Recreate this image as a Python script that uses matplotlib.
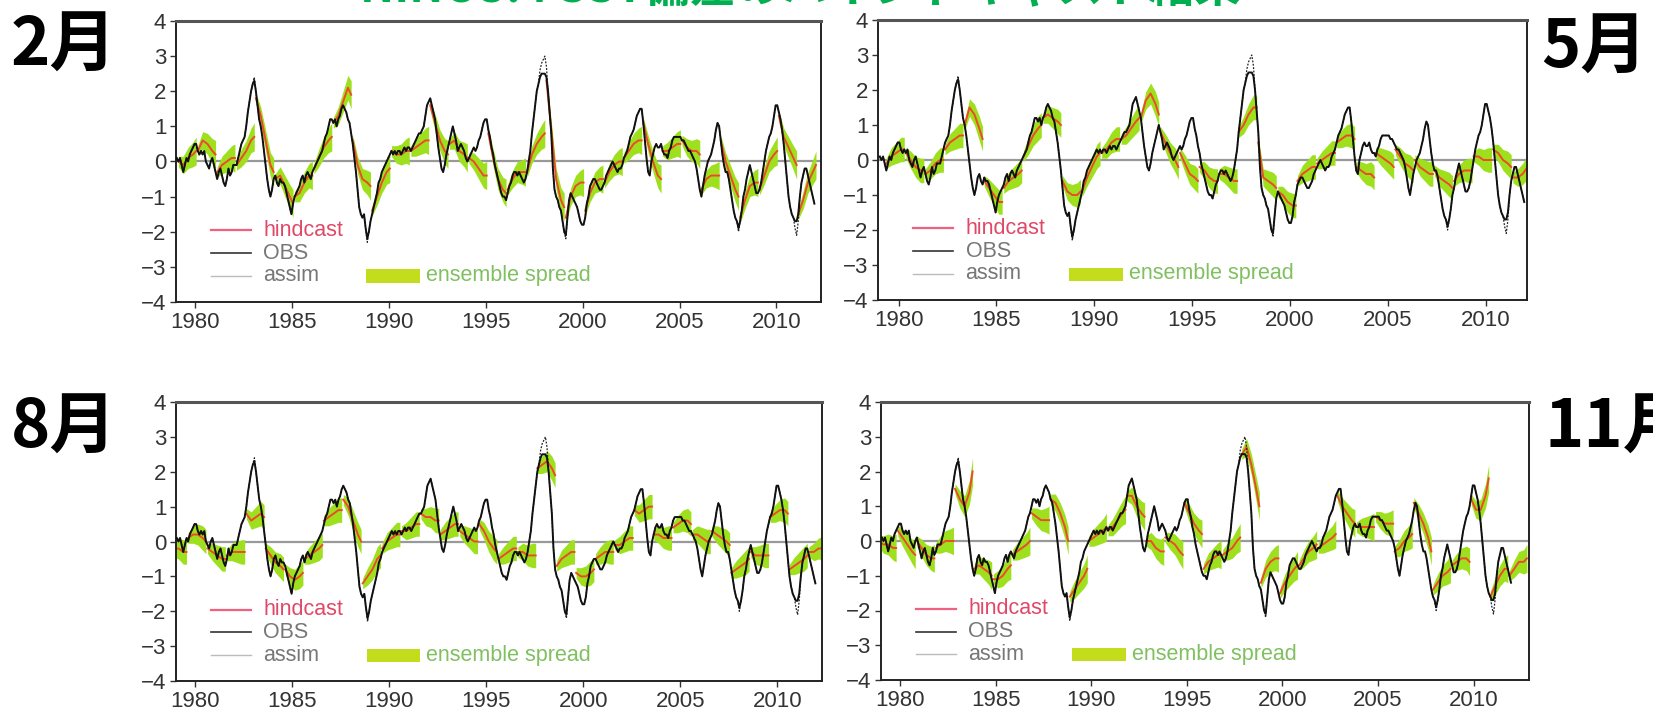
import numpy as np
import matplotlib.pyplot as plt

# ---------------------------------------------------------------- data
# Observed NINO3.4 SST anomaly (degC), monthly, Jan..Dec for each year
OBS_START = 1979
OBS = [
    [0.1, 0.0, 0.1, -0.1, -0.3, -0.1, 0.1, 0.0, 0.2, 0.3, 0.4, 0.5],      # 1979
    [0.5, 0.3, 0.2, 0.3, 0.2, 0.3, 0.0, -0.1, -0.2, 0.0, 0.1, -0.1],      # 1980
    [-0.3, -0.5, -0.3, -0.2, -0.4, -0.6, -0.7, -0.5, -0.2, -0.4, -0.3, -0.1],
    [-0.1, -0.1, 0.1, 0.3, 0.5, 0.6, 0.7, 1.0, 1.4, 1.7, 2.0, 2.2],
    [2.3, 2.0, 1.6, 1.2, 1.0, 0.7, 0.3, -0.1, -0.5, -0.8, -1.0, -0.8],
    [-0.5, -0.4, -0.6, -0.7, -0.5, -0.6, -0.6, -0.7, -0.9, -1.1, -1.3, -1.5],
    [-1.2, -1.0, -0.9, -0.8, -0.7, -0.5, -0.4, -0.6, -0.4, -0.3, -0.4, -0.5],
    [-0.3, -0.2, -0.1, 0.0, 0.1, 0.2, 0.3, 0.5, 0.7, 0.8, 1.0, 1.2],
    [1.2, 1.1, 1.2, 1.0, 1.2, 1.3, 1.5, 1.6, 1.5, 1.4, 1.2, 1.1],
    [0.8, 0.5, 0.1, -0.3, -0.8, -1.3, -1.5, -1.6, -1.5, -1.9, -2.2, -2.0],
    [-1.7, -1.5, -1.3, -1.1, -0.9, -0.6, -0.5, -0.3, -0.2, -0.1, 0.0, 0.1],
    [0.2, 0.3, 0.2, 0.3, 0.2, 0.3, 0.3, 0.2, 0.3, 0.4, 0.3, 0.4],
    [0.4, 0.3, 0.4, 0.5, 0.6, 0.7, 0.8, 0.8, 0.9, 1.0, 1.3, 1.6],
    [1.7, 1.8, 1.6, 1.4, 1.2, 0.8, 0.4, 0.1, -0.2, -0.3, -0.1, 0.2],
    [0.4, 0.6, 0.8, 1.0, 0.8, 0.6, 0.3, 0.4, 0.5, 0.4, 0.3, 0.1],
    [0.0, 0.1, 0.2, 0.3, 0.4, 0.3, 0.4, 0.6, 0.7, 0.9, 1.1, 1.2],
    [1.2, 0.9, 0.7, 0.4, 0.2, -0.1, -0.3, -0.5, -0.7, -0.9, -1.0, -1.0],
    [-1.1, -0.9, -0.7, -0.6, -0.4, -0.3, -0.3, -0.4, -0.3, -0.4, -0.5, -0.6],
    [-0.5, -0.3, 0.0, 0.3, 0.8, 1.2, 1.6, 2.0, 2.2, 2.4, 2.5, 2.5],
    [2.5, 2.4, 2.0, 1.4, 0.8, -0.2, -0.8, -1.0, -1.1, -1.3, -1.4, -1.7],
    [-2.0, -2.1, -1.6, -1.1, -0.9, -1.0, -1.1, -1.2, -1.3, -1.5, -1.7, -1.8],
    [-1.8, -1.6, -1.2, -1.0, -0.7, -0.6, -0.5, -0.5, -0.6, -0.7, -0.8, -0.8],
    [-0.7, -0.6, -0.4, -0.3, -0.2, -0.1, 0.0, -0.1, -0.2, -0.3, -0.2, -0.2],
    [-0.1, 0.1, 0.2, 0.3, 0.5, 0.7, 0.8, 0.9, 1.1, 1.3, 1.4, 1.5],
    [1.5, 1.1, 0.6, 0.1, -0.3, -0.4, 0.0, 0.2, 0.4, 0.5, 0.4, 0.4],
    [0.5, 0.3, 0.2, 0.2, 0.1, 0.3, 0.4, 0.6, 0.7, 0.7, 0.7, 0.7],
    [0.7, 0.6, 0.6, 0.5, 0.4, 0.3, 0.3, 0.2, 0.1, 0.0, -0.2, -0.5],
    [-0.8, -1.0, -0.7, -0.4, -0.2, 0.0, 0.1, 0.2, 0.4, 0.6, 0.9, 1.1],
    [1.0, 0.6, 0.2, -0.1, -0.3, -0.3, -0.5, -0.8, -1.1, -1.4, -1.6, -1.7],
    [-1.9, -1.7, -1.4, -1.0, -0.8, -0.5, -0.3, -0.1, -0.3, -0.5, -0.7, -0.9],
    [-0.9, -0.8, -0.6, -0.3, 0.0, 0.3, 0.5, 0.7, 0.8, 1.0, 1.3, 1.6],
    [1.6, 1.4, 1.2, 0.9, 0.5, 0.0, -0.5, -1.0, -1.3, -1.5, -1.6, -1.7],
    [-1.7, -1.5, -1.0, -0.6, -0.4, -0.2, -0.2, -0.4, -0.6, -0.8, -1.0, -1.2],  # 2011
]

# Assimilation run: departures from OBS, keyed by (year, month)
ASSIM_DIFF = {
    (1983, 1): 0.1, (1988, 11): -0.1,
    (1997, 10): 0.2, (1997, 11): 0.3, (1997, 12): 0.4, (1998, 1): 0.5, (1998, 2): 0.3,
    (1999, 2): -0.1, (2008, 1): -0.1, (2010, 12): -0.2, (2011, 1): -0.4, (2011, 2): -0.2,
}

# Hindcasts: lead months of each stored value, and one row per start year
LEADS = [0, 3, 6, 9, 11]

HC_FEB_START = 1979
HC_FEB = [
    [0.0, -0.1, 0.1, 0.2, 0.3], [0.3, 0.6, 0.5, 0.3, 0.2], [-0.3, -0.1, 0.0, 0.1, 0.1],
    [-0.1, 0.1, 0.3, 0.6, 0.7], [1.8, 1.3, 0.6, -0.1, -0.3], [-0.5, -0.4, -0.7, -1.0, -1.2],
    [-1.0, -0.9, -0.6, -0.4, -0.4], [-0.2, 0.1, 0.4, 0.6, 0.7], [1.1, 1.3, 1.7, 2.1, 1.9],
    [0.6, -0.1, -0.5, -0.6, -0.7], [-1.4, -1.0, -0.6, -0.3, -0.2], [0.3, 0.2, 0.2, 0.3, 0.3],
    [0.3, 0.4, 0.5, 0.6, 0.6], [1.6, 1.1, 0.6, 0.3, 0.2], [0.5, 0.6, 0.3, 0.2, 0.1],
    [0.1, 0.0, -0.2, -0.4, -0.4], [0.8, 0.1, -0.5, -0.8, -0.9], [-0.8, -0.5, -0.3, -0.3, -0.3],
    [-0.3, 0.2, 0.5, 0.7, 0.8], [2.3, 0.9, -0.5, -1.1, -1.3], [-1.6, -1.0, -0.7, -0.6, -0.6],
    [-1.4, -0.9, -0.6, -0.5, -0.5], [-0.6, -0.3, -0.1, 0.0, 0.0], [0.1, 0.3, 0.5, 0.6, 0.6],
    [1.1, 0.5, 0.0, -0.4, -0.5], [0.3, 0.3, 0.4, 0.5, 0.5], [0.6, 0.4, 0.3, 0.3, 0.2],
    [-0.8, -0.5, -0.4, -0.4, -0.4], [0.6, 0.0, -0.4, -0.8, -1.0], [-1.6, -1.1, -0.7, -0.6, -0.6],
    [-0.8, -0.4, 0.0, 0.2, 0.3], [1.3, 0.7, 0.4, 0.1, -0.1], [-1.5, -1.1, -0.6, -0.3, -0.1],
]
HC_MAY_START = 1979
HC_MAY = [
    [-0.1, 0.1, 0.2, 0.3, 0.3], [0.2, 0.0, -0.2, -0.3, -0.3], [-0.4, -0.3, -0.1, 0.0, 0.0],
    [0.3, 0.5, 0.6, 0.7, 0.7], [1.0, 1.5, 1.3, 0.9, 0.6], [-0.6, -0.8, -1.0, -1.2, -1.2],
    [-0.8, -0.6, -0.5, -0.4, -0.3], [0.1, 0.4, 0.7, 0.9, 1.0], [1.2, 1.3, 1.2, 1.1, 1.0],
    [-0.6, -0.9, -1.0, -1.0, -0.9], [-0.9, -0.5, -0.2, 0.1, 0.2], [0.2, 0.3, 0.5, 0.6, 0.6],
    [0.6, 0.7, 0.9, 1.1, 1.2], [1.2, 1.7, 1.9, 1.6, 1.3], [0.8, 0.5, 0.2, 0.0, -0.2],
    [0.2, -0.1, -0.4, -0.5, -0.6], [-0.2, -0.3, -0.5, -0.6, -0.6], [-0.4, -0.4, -0.5, -0.6, -0.6],
    [0.8, 1.0, 1.3, 1.5, 1.5], [0.5, -0.5, -0.6, -0.7, -0.8], [-0.9, -1.0, -1.2, -1.3, -1.3],
    [-0.6, -0.4, -0.3, -0.2, -0.2], [-0.1, 0.0, 0.1, 0.2, 0.2], [0.5, 0.6, 0.7, 0.7, 0.6],
    [-0.2, -0.3, -0.4, -0.4, -0.5], [0.2, 0.1, 0.0, -0.1, -0.2], [0.3, 0.1, -0.1, -0.2, -0.3],
    [0.0, -0.2, -0.3, -0.4, -0.4], [-0.3, -0.5, -0.6, -0.7, -0.8], [-0.6, -0.4, -0.3, -0.3, -0.3],
    [0.1, 0.1, 0.0, 0.0, 0.0], [0.3, 0.2, 0.0, -0.1, -0.2], [-0.5, -0.5, -0.4, -0.2, 0.2],
]
HC_AUG_START = 1978
HC_AUG = [
    [-0.1, -0.2, -0.2, -0.3, -0.3],
    [0.1, 0.2, 0.2, 0.1, 0.0], [-0.2, -0.3, -0.4, -0.5, -0.5], [-0.4, -0.3, -0.3, -0.3, -0.3],
    [0.8, 0.6, 0.7, 0.8, 0.7], [-0.2, -0.4, -0.6, -0.7, -0.8], [-0.8, -1.0, -1.1, -1.0, -0.9],
    [-0.5, -0.4, -0.3, -0.2, -0.1], [0.6, 0.7, 0.8, 0.9, 0.9], [1.2, 1.0, 0.6, 0.2, 0.0],
    [-1.2, -1.0, -0.8, -0.5, -0.4], [-0.2, 0.0, 0.1, 0.2, 0.2], [0.3, 0.3, 0.4, 0.5, 0.5],
    [0.8, 0.7, 0.7, 0.6, 0.6], [0.2, 0.3, 0.4, 0.5, 0.5], [0.3, 0.2, 0.1, 0.0, 0.0],
    [0.5, 0.3, 0.0, -0.2, -0.3], [-0.5, -0.4, -0.3, -0.2, -0.2], [-0.3, -0.3, -0.4, -0.4, -0.4],
    [2.1, 2.2, 2.3, 2.1, 1.9], [-0.7, -0.5, -0.4, -0.3, -0.3], [-0.9, -1.0, -1.0, -0.9, -0.8],
    [-0.5, -0.4, -0.3, -0.3, -0.3], [-0.1, -0.1, 0.0, 0.1, 0.1], [0.9, 0.8, 0.9, 1.0, 1.0],
    [0.2, 0.2, 0.1, 0.1, 0.1], [0.4, 0.5, 0.6, 0.6, 0.5], [0.2, 0.2, 0.1, 0.0, 0.0],
    [0.3, 0.2, 0.1, 0.0, -0.1], [-0.9, -0.8, -0.7, -0.6, -0.5], [-0.3, -0.4, -0.4, -0.4, -0.4],
    [0.7, 0.8, 0.9, 0.9, 0.8], [-0.8, -0.7, -0.6, -0.5, -0.4], [-0.3, -0.3, -0.2, -0.2, -0.2],
]
HC_NOV_START = 1978
HC_NOV = [
    [0.0, -0.1, -0.1, -0.2, -0.2],
    [0.3, 0.1, -0.1, -0.3, -0.4], [0.0, -0.2, -0.4, -0.5, -0.5], [-0.2, -0.1, 0.0, 0.0, 0.0],
    [1.5, 1.2, 1.0, 1.4, 2.0], [-0.8, -0.7, -0.8, -0.9, -1.0], [-1.1, -1.1, -1.0, -0.8, -0.7],
    [-0.4, -0.3, -0.2, -0.1, 0.0], [0.8, 0.7, 0.6, 0.6, 0.6], [1.2, 1.1, 0.8, 0.4, 0.0],
    [-1.6, -1.4, -1.2, -1.0, -0.8], [0.0, 0.1, 0.2, 0.3, 0.4], [0.3, 0.4, 0.6, 0.8, 0.9],
    [1.3, 1.3, 1.0, 0.8, 0.7], [0.0, 0.0, -0.2, -0.3, -0.3], [0.1, 0.0, -0.1, -0.3, -0.4],
    [1.1, 0.8, 0.5, 0.3, 0.2], [-0.8, -0.6, -0.5, -0.4, -0.4], [-0.4, -0.3, -0.2, 0.0, 0.1],
    [2.5, 2.7, 2.2, 1.5, 1.0], [-1.2, -0.8, -0.6, -0.5, -0.5], [-1.5, -1.2, -1.0, -0.8, -0.7],
    [-0.7, -0.5, -0.3, -0.2, -0.1], [-0.2, -0.1, 0.0, 0.1, 0.2], [1.3, 1.0, 0.8, 0.6, 0.5],
    [0.4, 0.4, 0.4, 0.4, 0.4], [0.7, 0.6, 0.5, 0.5, 0.5], [-0.3, -0.2, 0.0, 0.1, 0.2],
    [1.1, 0.8, 0.5, 0.1, -0.3], [-1.4, -1.2, -1.0, -0.9, -0.8], [-0.7, -0.6, -0.5, -0.5, -0.6],
    [1.2, 0.9, 0.9, 1.3, 1.8], [-1.6, -1.3, -1.0, -0.8, -0.8], [-1.0, -0.8, -0.6, -0.6, -0.5],
]

# Ensemble spread half-width (degC) at each stored lead
SPREAD_FEB = [0.15, 0.25, 0.30, 0.35, 0.40]
SPREAD_MAY = [0.15, 0.25, 0.30, 0.35, 0.35]
SPREAD_AUG = [0.15, 0.25, 0.30, 0.35, 0.35]
SPREAD_NOV = [0.15, 0.25, 0.30, 0.35, 0.40]

MONTH_LABELS = ["2月", "5月", "8月", "11月"]
START_MONTHS = [2, 5, 8, 11]
YEAR_TICKS = [1980, 1985, 1990, 1995, 2000, 2005, 2010]
VALUE_TICKS = [-4, -3, -2, -1, 0, 1, 2, 3, 4]
TITLE = "NINO3.4 SST偏差のハインドキャスト結果"

# ---------------------------------------------------------------- style
C_HC = "#ee4a2a"
C_SPREAD = "#9ee01e"
C_LEG_SPREAD = "#c3dc1c"
TICK_FONT = ["Liberation Sans", "DejaVu Sans"]
CJK_FONT = ["Noto Sans CJK JP", "DejaVu Sans"]

W, H = 1653, 715
fig = plt.figure(figsize=(W / 100, H / 100), dpi=100)
fig.patch.set_facecolor("white")

# axes boxes in pixels: left, right, top, bottom
boxes = [(176, 821, 21, 302), (878, 1527, 20, 300), (176, 822, 402, 681), (881, 1529, 402, 680)]
xlims = [(1979.0, 2012.3), (1978.95, 2012.1), (1979.0, 2012.3), (1979.0, 2012.9)]
hindcasts = [(HC_FEB_START, HC_FEB, SPREAD_FEB), (HC_MAY_START, HC_MAY, SPREAD_MAY),
             (HC_AUG_START, HC_AUG, SPREAD_AUG), (HC_NOV_START, HC_NOV, SPREAD_NOV)]

obs = np.array(OBS, dtype=float)
t_obs = OBS_START + (np.arange(obs.size) + 0.5) / 12.0
obs_flat = obs.ravel()
assim = obs_flat.copy()
for (yy, mm), d in ASSIM_DIFF.items():
    assim[(yy - OBS_START) * 12 + mm - 1] += d

for k, (l, r, t, b) in enumerate(boxes):
    ax = fig.add_axes([l / W, 1 - b / H, (r - l) / W, (b - t) / H])
    start_year, rows, spread = hindcasts[k]
    m0 = START_MONTHS[k]
    sp = np.array(spread)
    for i, row in enumerate(rows):
        yr = start_year + i
        x = yr + (m0 - 0.5 + np.array(LEADS)) / 12.0
        v = np.array(row)
        ax.fill_between(x, v - sp, v + sp, color=C_SPREAD, lw=0, zorder=1)
        ax.plot(x, v, color=C_HC, lw=1.4, zorder=2)
    ax.axhline(0, color="#999999", lw=1.6, zorder=0.5)
    ax.plot(t_obs, assim, color="#222222", lw=0.9, ls=(0, (1.5, 1.2)), zorder=3)
    ax.plot(t_obs, obs_flat, color="#111111", lw=1.4, zorder=4)

    ax.set_xlim(*xlims[k])
    ax.set_ylim(-4, 4)
    ax.set_xticks(YEAR_TICKS)
    ax.set_yticks(VALUE_TICKS)
    ax.set_xticklabels([str(y) for y in YEAR_TICKS])
    ax.set_yticklabels([str(v).replace("-", "\u2212") for v in VALUE_TICKS])
    ax.tick_params(direction="out", length=4, width=1.0, colors="#333333",
                   labelsize=16, pad=3)
    for lab in ax.get_xticklabels() + ax.get_yticklabels():
        lab.set_family(TICK_FONT)
        lab.set_color("#333333")
    for s in ax.spines.values():
        s.set_linewidth(1.4)
        s.set_color("#222222")
    ax.spines["top"].set_linewidth(2.2)
    ax.spines["top"].set_color("#555555")

    # legend drawn inside the panel
    tr = ax.transAxes
    ax.plot([0.054, 0.116], [0.256, 0.256], transform=tr, color="#f06080", lw=1.6, zorder=5)
    ax.plot([0.054, 0.116], [0.174, 0.174], transform=tr, color="#333333", lw=1.2, zorder=5)
    ax.plot([0.054, 0.116], [0.093, 0.093], transform=tr, color="#bbbbbb", lw=1.0, zorder=5)
    ax.text(0.135, 0.256, "hindcast", transform=tr, color="#e04868", fontsize=15.5,
            family=TICK_FONT, va="center", zorder=5)
    ax.text(0.135, 0.174, "OBS", transform=tr, color="#777777", fontsize=15.5,
            family=TICK_FONT, va="center", zorder=5)
    ax.text(0.135, 0.093, "assim", transform=tr, color="#777777", fontsize=15.5,
            family=TICK_FONT, va="center", zorder=5)
    ax.add_patch(plt.Rectangle((0.295, 0.068), 0.083, 0.048, transform=tr,
                               color=C_LEG_SPREAD, lw=0, zorder=5))
    ax.text(0.387, 0.093, "ensemble spread", transform=tr, color="#80c060", fontsize=15.5,
            family=TICK_FONT, va="center", zorder=5)

# month labels
for label, (px, py) in zip(MONTH_LABELS, [(11, 66), (1541, 68), (11, 448), (1545, 448)]):
    fig.text(px / W, 1 - py / H, label, family=CJK_FONT, weight="bold", fontsize=48,
             color="black", ha="left", va="baseline")

# headline, mostly above the top edge of the figure
fig.text(800 / W, 1 - 2 / H, TITLE, family=CJK_FONT, weight="bold", fontsize=33,
         color="#00b050", ha="center", va="baseline")

fig.savefig("out.png", dpi=100, facecolor="white")
